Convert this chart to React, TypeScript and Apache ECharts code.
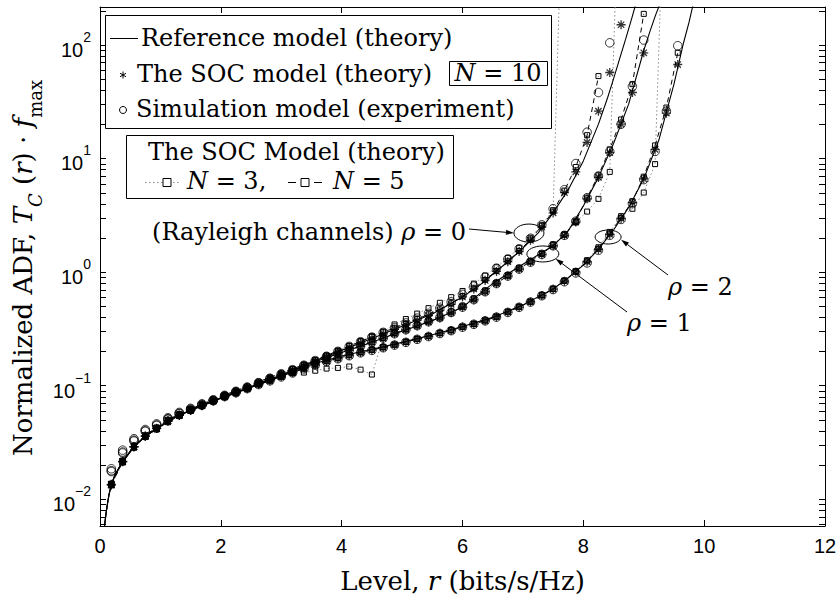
import React, { useEffect, useRef } from "react";
import * as echarts from "echarts";

// Quantised signal levels r (bits/s/Hz) at which the models were evaluated
const LEVELS = [
  0.1875, 0.375, 0.5625, 0.75, 0.9375, 1.125, 1.3125, 1.5, 1.6875, 1.875,
  2.0625, 2.25, 2.4375, 2.625, 2.8125, 3, 3.1875, 3.375, 3.5625, 3.75,
  3.9375, 4.125, 4.3125, 4.5, 4.6875, 4.875, 5.0625, 5.25, 5.4375, 5.625,
  5.8125, 6, 6.1875, 6.375, 6.5625, 6.75, 6.9375, 7.125, 7.3125, 7.5,
  7.6875, 7.875, 8.0625, 8.25, 8.4375, 8.625, 8.8125, 9, 9.1875, 9.375,
  9.5625, 9.75,
];

// Reference model (theory), continuous curves
const REF_R_RHO0 = [0.075, 0.1, 0.125, 0.15, 0.1875, 0.25, 0.375, 0.5625, 0.75, 1, 1.25, 1.5, 2, 2.5, 3, 3.5, 4, 4.5, 5, 5.5, 6, 6.25, 6.5, 6.75, 7, 7.25, 7.5, 7.75, 8, 8.25, 8.4, 8.5, 8.6, 8.7, 8.8, 8.87];
const REF_V_RHO0 = [0.0058, 0.0075, 0.0092, 0.011, 0.0135, 0.0165, 0.0215, 0.029, 0.036, 0.044, 0.053, 0.061, 0.078, 0.098, 0.124, 0.16, 0.204, 0.26, 0.333, 0.427, 0.603, 0.74, 0.955, 1.23, 1.62, 2.2, 3.31, 5.3, 9.5, 20, 34, 50, 75, 112, 170, 230];
const REF_R_RHO1 = [0.075, 0.1, 0.125, 0.15, 0.1875, 0.25, 0.375, 0.5625, 0.75, 1, 1.25, 1.5, 2, 2.5, 3, 3.5, 4, 4.5, 5, 5.5, 6, 6.5, 7, 7.5, 7.75, 8, 8.25, 8.5, 8.75, 9, 9.1, 9.2, 9.27];
const REF_V_RHO1 = [0.0058, 0.0075, 0.0092, 0.011, 0.0134, 0.0164, 0.0213, 0.0288, 0.0357, 0.0437, 0.0526, 0.0606, 0.0775, 0.0972, 0.122, 0.158, 0.195, 0.24, 0.301, 0.372, 0.49, 0.79, 1.17, 1.7, 2.3, 3.8, 6.8, 13.5, 30, 89, 130, 185, 230];
const REF_R_RHO2 = [0.075, 0.1, 0.125, 0.15, 0.1875, 0.25, 0.375, 0.5625, 0.75, 1, 1.25, 1.5, 2, 2.5, 3, 3.5, 4, 4.5, 5, 5.5, 6, 6.5, 7, 7.5, 7.75, 8, 8.25, 8.5, 8.75, 9, 9.25, 9.5, 9.65, 9.75, 9.82];
const REF_V_RHO2 = [0.0058, 0.0075, 0.0092, 0.011, 0.0134, 0.0164, 0.0214, 0.0289, 0.0358, 0.0437, 0.0525, 0.0604, 0.077, 0.096, 0.12, 0.153, 0.182, 0.209, 0.24, 0.28, 0.331, 0.398, 0.513, 0.708, 0.89, 1.15, 1.58, 2.34, 3.7, 6.6, 14.5, 45, 100, 158, 230];

// The SOC model (theory), N = 10, one value per level
const SOC10_RHO0 = [0.0135, 0.0215, 0.029, 0.036, 0.042, 0.049, 0.055, 0.061, 0.067, 0.074, 0.081, 0.088, 0.096, 0.105, 0.115, 0.125, 0.136, 0.149, 0.163, 0.178, 0.196, 0.216, 0.237, 0.26, 0.285, 0.313, 0.343, 0.376, 0.412, 0.457, 0.519, 0.603, 0.708, 0.841, 1.01, 1.23, 1.51, 1.9, 2.48, 3.31, 5.0, 7.6, 13.8, 26, 57, 150];
const SOC10_RHO1 = [0.0133, 0.0213, 0.0288, 0.0357, 0.0418, 0.0487, 0.0547, 0.0607, 0.0667, 0.0735, 0.0803, 0.0872, 0.095, 0.104, 0.113, 0.123, 0.134, 0.146, 0.16, 0.176, 0.19, 0.204, 0.221, 0.24, 0.26, 0.285, 0.309, 0.335, 0.363, 0.394, 0.437, 0.49, 0.57, 0.67, 0.79, 0.92, 1.06, 1.22, 1.42, 1.7, 2.09, 2.75, 4.4, 6.8, 11.2, 20, 38, 85];
const SOC10_RHO2 = [0.0134, 0.0214, 0.0289, 0.0358, 0.0419, 0.0488, 0.0548, 0.0607, 0.0665, 0.073, 0.0795, 0.086, 0.0935, 0.102, 0.11, 0.12, 0.13, 0.143, 0.152, 0.163, 0.173, 0.184, 0.195, 0.205, 0.216, 0.228, 0.241, 0.256, 0.271, 0.288, 0.305, 0.327, 0.347, 0.372, 0.402, 0.442, 0.49, 0.545, 0.62, 0.705, 0.83, 1.0, 1.23, 1.58, 2.14, 2.95, 4.07, 6.6, 12, 25, 67];

// Simulation model (experiment)
const SIM_RHO0 = [0.0185, 0.027, 0.034, 0.041, 0.046, 0.052, 0.058, 0.063, 0.069, 0.075, 0.082, 0.089, 0.097, 0.106, 0.116, 0.127, 0.138, 0.151, 0.166, 0.181, 0.2, 0.221, 0.243, 0.267, 0.294, 0.323, 0.356, 0.392, 0.432, 0.48, 0.545, 0.635, 0.75, 0.9, 1.08, 1.3, 1.6, 1.98, 2.6, 3.6, 5.3, 9.0, 17, 38, 104];
const SIM_RHO1 = [0.0178, 0.026, 0.033, 0.04, 0.045, 0.051, 0.057, 0.062, 0.068, 0.074, 0.081, 0.088, 0.096, 0.105, 0.114, 0.124, 0.135, 0.147, 0.161, 0.177, 0.191, 0.205, 0.222, 0.241, 0.262, 0.286, 0.31, 0.337, 0.365, 0.397, 0.44, 0.49, 0.57, 0.67, 0.79, 0.92, 1.06, 1.22, 1.43, 1.7, 2.1, 2.8, 4.5, 7.0, 11.5, 20, 43, 110];
const SIM_RHO2 = [0.0175, 0.0255, 0.0325, 0.0395, 0.0445, 0.0505, 0.0565, 0.0615, 0.0672, 0.0735, 0.08, 0.0865, 0.094, 0.102, 0.11, 0.119, 0.129, 0.14, 0.151, 0.162, 0.172, 0.183, 0.194, 0.204, 0.215, 0.227, 0.24, 0.255, 0.27, 0.287, 0.304, 0.326, 0.346, 0.371, 0.4, 0.44, 0.488, 0.543, 0.617, 0.7, 0.82, 0.98, 1.2, 1.55, 2.1, 2.9, 4.0, 6.5, 11.5, 26, 98];

// The SOC model (theory), N = 5
const SOC5_RHO0 = [0.0137, 0.0218, 0.0295, 0.0365, 0.0428, 0.05, 0.0562, 0.0622, 0.0685, 0.0755, 0.0828, 0.09, 0.098, 0.108, 0.118, 0.128, 0.14, 0.153, 0.168, 0.184, 0.202, 0.222, 0.244, 0.268, 0.294, 0.322, 0.353, 0.386, 0.423, 0.468, 0.53, 0.61, 0.715, 0.85, 1.02, 1.24, 1.53, 1.93, 2.55, 3.4, 5.2, 8.4, 16, 53];
const SOC5_RHO1 = [0.0134, 0.0214, 0.029, 0.0359, 0.042, 0.049, 0.055, 0.061, 0.067, 0.074, 0.081, 0.0877, 0.0955, 0.105, 0.114, 0.124, 0.135, 0.147, 0.161, 0.177, 0.191, 0.205, 0.222, 0.241, 0.262, 0.287, 0.311, 0.337, 0.365, 0.396, 0.44, 0.493, 0.573, 0.673, 0.793, 0.925, 1.07, 1.23, 1.44, 1.72, 2.12, 2.8, 4.5, 7.1, 12, 22, 45, 187];
const SOC5_RHO2 = [0.0135, 0.0215, 0.029, 0.036, 0.042, 0.049, 0.055, 0.061, 0.0668, 0.0733, 0.0798, 0.0864, 0.094, 0.1025, 0.1105, 0.1195, 0.1295, 0.1405, 0.1525, 0.1635, 0.1735, 0.1845, 0.1955, 0.2055, 0.2165, 0.2285, 0.2415, 0.2565, 0.2715, 0.2885, 0.3055, 0.3275, 0.3475, 0.3725, 0.4025, 0.4425, 0.4905, 0.5455, 0.621, 0.706, 0.832, 1.0, 1.24, 1.6, 2.18, 3.0, 4.2, 6.9, 13, 28, 85];

// The SOC model (theory), N = 3 (last entries run off the top of the plot)
const SOC3_RHO0 = [0.0132, 0.021, 0.0283, 0.0352, 0.041, 0.0475, 0.0538, 0.0598, 0.0658, 0.0728, 0.0798, 0.0872, 0.0955, 0.105, 0.116, 0.127, 0.139, 0.152, 0.167, 0.184, 0.203, 0.224, 0.247, 0.272, 0.299, 0.345, 0.385, 0.43, 0.48, 0.535, 0.6, 0.68, 0.79, 0.93, 1.1, 1.33, 1.62, 2.0, 2.6, 3.5, 10000];
const SOC3_RHO1 = [0.0134, 0.0212, 0.0286, 0.0352, 0.0412, 0.048, 0.054, 0.0598, 0.066, 0.0725, 0.0795, 0.0865, 0.094, 0.103, 0.112, 0.12, 0.128, 0.13, 0.135, 0.141, 0.143, 0.147, 0.138, 0.125, 0.262, 0.29, 0.315, 0.342, 0.372, 0.405, 0.45, 0.505, 0.585, 0.685, 0.805, 0.94, 1.09, 1.25, 1.46, 1.75, 2.15, 2.75, 3.4, 4.4, 7.6, 10000];
const SOC3_RHO2 = [0.0136, 0.0217, 0.0292, 0.0362, 0.0424, 0.0494, 0.0555, 0.0612, 0.0672, 0.0738, 0.0804, 0.087, 0.0948, 0.1035, 0.1115, 0.1205, 0.1305, 0.142, 0.154, 0.165, 0.175, 0.186, 0.197, 0.207, 0.218, 0.23, 0.243, 0.258, 0.273, 0.29, 0.308, 0.33, 0.35, 0.376, 0.406, 0.447, 0.495, 0.55, 0.625, 0.71, 0.84, 1.02, 1.27, 1.65, 2.25, 3.1, 3.6, 5.0, 8.9, 10000];

// Axis ranges and minor tick positions of the log axis
const X_TICKS = [0, 2, 4, 6, 8, 10, 12];
const Y_MIN = 0.0058;
const Y_MAX = 215;
const Y_MINOR = [
  0.006, 0.007, 0.008, 0.009,
  0.02, 0.03, 0.04, 0.05, 0.06, 0.07, 0.08, 0.09,
  0.2, 0.3, 0.4, 0.5, 0.6, 0.7, 0.8, 0.9,
  2, 3, 4, 5, 6, 7, 8, 9,
  20, 30, 40, 50, 60, 70, 80, 90, 200,
];

// Ellipse markers on the curves: [r, value] centres
const RHO_MARKS = [
  { label: "0", at: [7.1, 2.2], rx: 15, ry: 9 },
  { label: "1", at: [7.33, 1.44], rx: 16, ry: 8 },
  { label: "2", at: [8.41, 2.03], rx: 13, ry: 7 },
];

const SERIF = '"DejaVu Serif", serif';
const SANS = '"Liberation Sans", Arial, sans-serif';
const STAR = "path://M0,-10L0,10M-10,0L10,0M-7,-7L7,7M-7,7L7,-7";

const atLevels = (vals: number[]) => vals.map((v, i) => [LEVELS[i], v]);
const curve = (rs: number[], vs: number[]) => rs.map((r, i) => [r, vs[i]]);
const hollow = { color: "transparent", borderColor: "#000", borderWidth: 1 };

function refSeries(name: string, rs: number[], vs: number[]) {
  return {
    name, type: "line", data: curve(rs, vs), symbol: "none", showSymbol: false,
    lineStyle: { color: "#000", width: 1.1 }, z: 4, silent: true,
  };
}
function soc3Series(name: string, vals: number[]) {
  return {
    name, type: "line", data: atLevels(vals), symbol: "rect", symbolSize: 5, showSymbol: true,
    lineStyle: { color: "#8a8a8a", width: 1, type: [1.5, 2.5] }, itemStyle: hollow, z: 3, silent: true,
  };
}
function soc5Series(name: string, vals: number[]) {
  return {
    name, type: "line", data: atLevels(vals), symbol: "rect", symbolSize: 5, showSymbol: true,
    lineStyle: { color: "#000", width: 1, type: [5, 4] }, itemStyle: hollow, z: 3, silent: true,
  };
}
function starSeries(name: string, vals: number[]) {
  return {
    name, type: "scatter", data: atLevels(vals), symbol: STAR, symbolSize: 9,
    itemStyle: { color: "transparent", borderColor: "#000", borderWidth: 1.3 }, z: 5, silent: true,
  };
}
function simSeries(name: string, vals: number[]) {
  return { name, type: "scatter", data: atLevels(vals), symbol: "circle", symbolSize: 8.5, itemStyle: hollow, z: 6, silent: true };
}

function yLabel(v: number) {
  const e = Math.log10(v);
  const n = Math.round(e);
  if (Math.abs(e - n) > 1e-6) return "";
  return `{b|10}{e|${n < 0 ? "\u2212" + -n : n}}`;
}

const frameLine = { show: true, onZero: false, lineStyle: { color: "#000", width: 1 } };
const inTick = { show: true, inside: true, length: 6, lineStyle: { color: "#000", width: 1 } };

function buildOption() {
  return {
    animation: false,
    backgroundColor: "#fff",
    grid: { left: 100, right: 15, top: 7, bottom: 71, containLabel: false },
    xAxis: [
      {
        type: "value", min: X_TICKS[0], max: X_TICKS[X_TICKS.length - 1], interval: 2, position: "bottom",
        axisLine: frameLine, axisTick: inTick, splitLine: { show: false },
        axisLabel: { color: "#000", fontFamily: SANS, fontSize: 20, margin: 10 },
        name: "Level, {i|r} (bits/s/Hz)", nameLocation: "middle", nameGap: 42,
        nameTextStyle: {
          color: "#000", fontFamily: SERIF, fontSize: 26,
          rich: { i: { fontFamily: SERIF, fontSize: 26, fontStyle: "italic", color: "#000" } },
        },
      },
      {
        type: "value", min: X_TICKS[0], max: X_TICKS[X_TICKS.length - 1], interval: 2, position: "top",
        axisLine: frameLine, axisTick: inTick, axisLabel: { show: false }, splitLine: { show: false },
      },
    ],
    yAxis: [
      {
        type: "log", logBase: 10, min: Y_MIN, max: Y_MAX, position: "left",
        axisLine: frameLine, axisTick: inTick, splitLine: { show: false }, minorTick: { show: false },
        axisLabel: {
          formatter: yLabel, margin: 9,
          rich: {
            b: { fontFamily: SANS, fontSize: 20, color: "#000", lineHeight: 30, verticalAlign: "bottom" },
            e: { fontFamily: SANS, fontSize: 14, color: "#000", lineHeight: 14, verticalAlign: "top" },
          },
        },
      },
      {
        type: "log", logBase: 10, min: Y_MIN, max: Y_MAX, position: "right",
        axisLine: frameLine, axisTick: inTick, axisLabel: { show: false }, splitLine: { show: false },
      },
    ],
    series: [
      {
        type: "custom", coordinateSystem: "cartesian2d", xAxisIndex: 0, yAxisIndex: 0, silent: true, z: 10,
        data: Y_MINOR.map((v) => [0, v]),
        renderItem: (params: any, api: any) => {
          const p = api.coord([0, api.value(1)]);
          const cs = params.coordSys;
          const y = Math.round(p[1]) + 0.5;
          return {
            type: "group",
            children: [
              { type: "line", shape: { x1: cs.x, y1: y, x2: cs.x + 6, y2: y }, style: { stroke: "#000", lineWidth: 1 } },
              { type: "line", shape: { x1: cs.x + cs.width - 6, y1: y, x2: cs.x + cs.width, y2: y }, style: { stroke: "#000", lineWidth: 1 } },
            ],
          };
        },
      },
      soc3Series("SOC N=3, rho=0", SOC3_RHO0),
      soc3Series("SOC N=3, rho=1", SOC3_RHO1),
      soc3Series("SOC N=3, rho=2", SOC3_RHO2),
      soc5Series("SOC N=5, rho=0", SOC5_RHO0),
      soc5Series("SOC N=5, rho=1", SOC5_RHO1),
      soc5Series("SOC N=5, rho=2", SOC5_RHO2),
      refSeries("Reference, rho=0", REF_R_RHO0, REF_V_RHO0),
      refSeries("Reference, rho=1", REF_R_RHO1, REF_V_RHO1),
      refSeries("Reference, rho=2", REF_R_RHO2, REF_V_RHO2),
      starSeries("SOC N=10, rho=0", SOC10_RHO0),
      starSeries("SOC N=10, rho=1", SOC10_RHO1),
      starSeries("SOC N=10, rho=2", SOC10_RHO2),
      simSeries("Simulation, rho=0", SIM_RHO0),
      simSeries("Simulation, rho=1", SIM_RHO1),
      simSeries("Simulation, rho=2", SIM_RHO2),
    ],
  };
}

const italic = { i: { fontFamily: SERIF, fontSize: 24, fontStyle: "italic", fill: "#000" } };

function label(x: number, y: number, text: string, align = "left", z = 101) {
  return {
    type: "text", x, y, z,
    style: { text, fontFamily: SERIF, fontSize: 24, fill: "#000", align, verticalAlign: "middle", rich: italic },
  };
}
function seg(x1: number, y1: number, x2: number, y2: number, extra: any = {}) {
  return { type: "line", z: 101, shape: { x1, y1, x2, y2 }, style: { stroke: "#000", lineWidth: 1, ...extra } };
}
function box(x: number, y: number, w: number, h: number, z = 100) {
  return { type: "rect", z, shape: { x, y, width: w, height: h }, style: { fill: "#fff", stroke: "#000", lineWidth: 1 } };
}
function square(cx: number, cy: number, s: number) {
  return { type: "rect", z: 102, shape: { x: cx - s / 2, y: cy - s / 2, width: s, height: s }, style: { fill: "#fff", stroke: "#000", lineWidth: 1 } };
}
function arrow(x0: number, y0: number, x1: number, y1: number) {
  const dx = x1 - x0, dy = y1 - y0;
  const len = Math.hypot(dx, dy);
  const ux = dx / len, uy = dy / len;
  const bx = x1 - ux * 8, by = y1 - uy * 8;
  return [
    seg(x0, y0, bx, by),
    {
      type: "polygon", z: 101,
      shape: { points: [[x1, y1], [bx - uy * 2.5, by + ux * 2.5], [bx + uy * 2.5, by - ux * 2.5]] },
      style: { fill: "#000" },
    },
  ];
}

function buildGraphics(px: (r: number, v: number) => number[]) {
  const g: any[] = [];
  // Y axis title
  g.push({
    type: "text", x: 27, y: 268, rotation: Math.PI / 2, z: 101,
    style: {
      text: "{n|Normalized ADF, }{i|T}{si|C}{n| (}{i|r}{n|) \u00b7 }{i|f}{s|max}",
      align: "center", verticalAlign: "middle", fill: "#000",
      rich: {
        n: { fontFamily: SERIF, fontSize: 26, lineHeight: 34, verticalAlign: "top", fill: "#000" },
        i: { fontFamily: SERIF, fontSize: 26, fontStyle: "italic", lineHeight: 34, verticalAlign: "top", fill: "#000" },
        si: { fontFamily: SERIF, fontSize: 18, fontStyle: "italic", lineHeight: 18, verticalAlign: "bottom", fill: "#000" },
        s: { fontFamily: SERIF, fontSize: 18, lineHeight: 18, verticalAlign: "bottom", fill: "#000" },
      },
    },
  });

  // Main legend
  g.push(box(105.5, 15.5, 446, 113));
  g.push(seg(110, 38.5, 138, 38.5));
  g.push(label(141, 38, "Reference model (theory)"));
  const sx = 123, sy = 75;
  g.push(seg(sx, sy - 3.5, sx, sy + 3.5));
  g.push(seg(sx - 3, sy - 1.75, sx + 3, sy + 1.75));
  g.push(seg(sx - 3, sy + 1.75, sx + 3, sy - 1.75));
  g.push(label(137, 74, "The SOC model (theory)"));
  g.push(box(449.5, 61.5, 98, 24, 101));
  g.push(label(498, 73, "{i|N} = 10", "center", 102));
  g.push({ type: "circle", z: 101, shape: { cx: 123, cy: 110, r: 3.5 }, style: { fill: "none", stroke: "#000", lineWidth: 1 } });
  g.push(label(136, 109, "Simulation model (experiment)"));

  // Low-order SOC legend
  g.push(box(126.5, 135.5, 327, 63));
  g.push(label(148, 152, "The SOC Model (theory)"));
  g.push(seg(145, 182.5, 181, 182.5, { stroke: "#8a8a8a", lineDash: [1.5, 2.5] }));
  g.push(square(167, 182.5, 8));
  g.push(label(187, 181, "{i|N} = 3,"));
  g.push(seg(288, 182.5, 296, 182.5));
  g.push(seg(314, 182.5, 322, 182.5));
  g.push(square(305, 182.5, 8));
  g.push(label(333, 181, "{i|N} = 5"));

  // Ellipses around the curves and their labels
  const c = RHO_MARKS.map((m) => px(m.at[0], m.at[1]));
  RHO_MARKS.forEach((m, i) => {
    g.push({ type: "ellipse", z: 101, shape: { cx: c[i][0], cy: c[i][1], rx: m.rx, ry: m.ry }, style: { fill: "none", stroke: "#000", lineWidth: 1 } });
  });
  g.push(label(466, 232, "(Rayleigh channels) {i|\u03c1} = 0", "right"));
  g.push(...arrow(469, 229, c[0][0] - RHO_MARKS[0].rx, c[0][1]));
  g.push(label(627, 323, "{i|\u03c1} = 1"));
  g.push(...arrow(627, 312, c[1][0] + RHO_MARKS[1].rx * 0.8, c[1][1] + RHO_MARKS[1].ry * 0.6));
  g.push(label(668, 287, "{i|\u03c1} = 2"));
  g.push(...arrow(668, 275, c[2][0] + RHO_MARKS[2].rx, c[2][1] + RHO_MARKS[2].ry * 0.4));
  return g;
}

export default function App() {
  const ref = useRef<HTMLDivElement>(null);
  useEffect(() => {
    if (!ref.current) return;
    const chart = echarts.init(ref.current, null, { renderer: "svg" });
    chart.setOption(buildOption() as any);
    const px = (r: number, v: number) =>
      chart.convertToPixel({ xAxisIndex: 0, yAxisIndex: 0 } as any, [r, v]) as number[];
    chart.setOption({ graphic: buildGraphics(px) } as any);
    return () => chart.dispose();
  }, []);
  return (
    <div
      ref={ref}
      style={{ position: "absolute", left: 0, top: 0, width: 840, height: 599, background: "#fff" }}
    />
  );
}
